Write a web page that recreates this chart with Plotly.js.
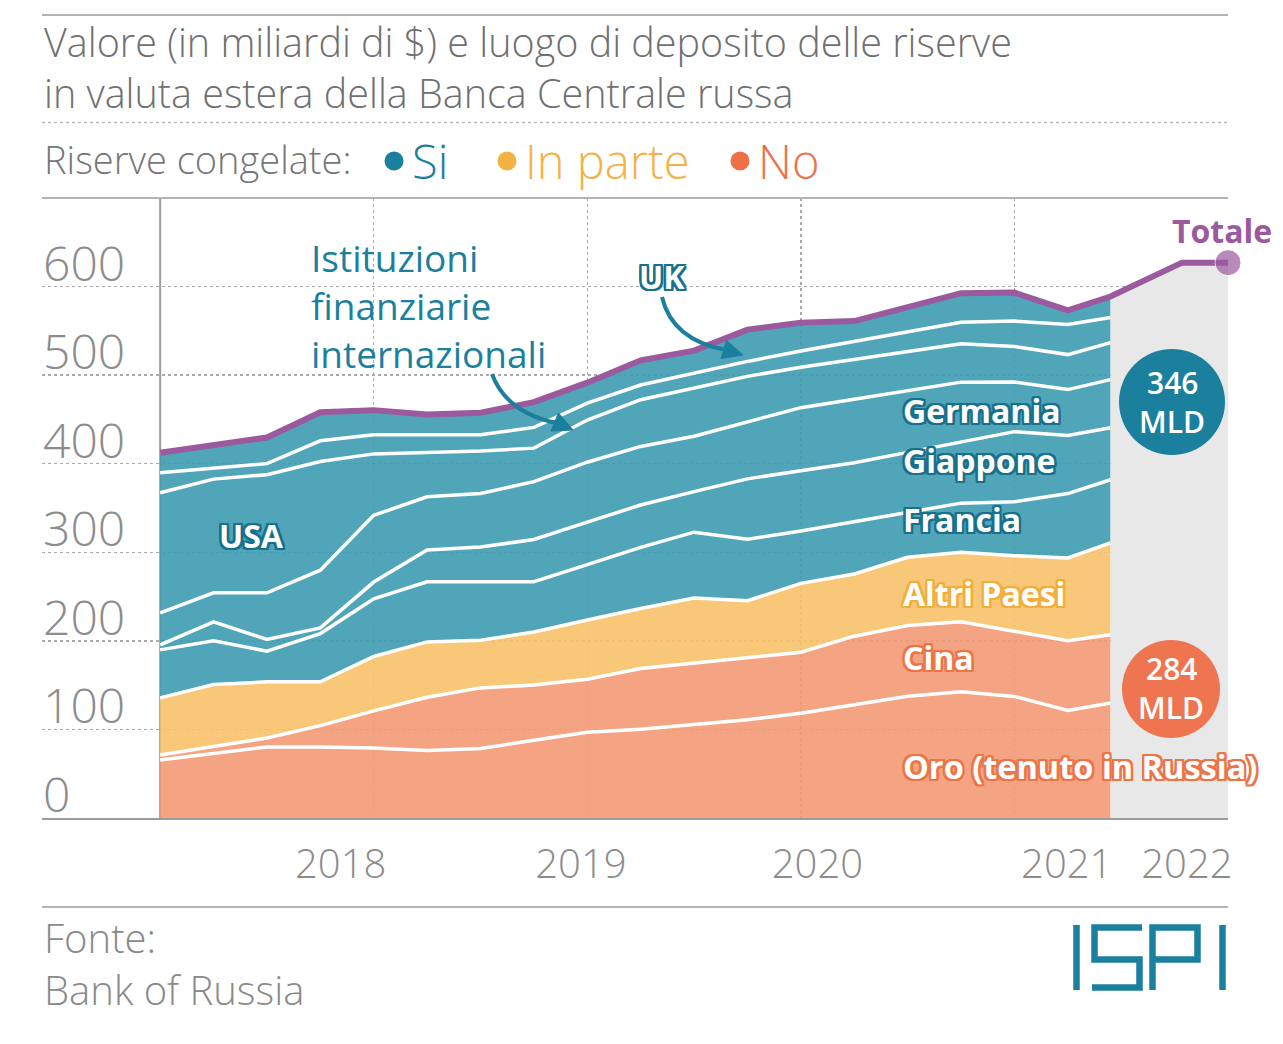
<!DOCTYPE html>
<html>
<head>
<meta charset="utf-8">
<script src="https://cdn.plot.ly/plotly-3.0.1.min.js"></script>
<style>
  html, body { margin: 0; padding: 0; background: #ffffff; }
  #chart { width: 1283px; height: 1044px; }
</style>
</head>
<body>
<div id="chart"></div>
<script>
// ---------- DATA (billions of $) ----------
// quarter index from Jan 2017 (0) ; last stacked point ~mid 2021
const quarterIdx = [0,1,2,3,4,5,6,7,8,9,10,11,12,13,14,15,16,17,17.8];
const oro      = [65.5,73.3,80.2,80.2,79.0,76.2,78.5,87.8,96.9,100.1,105.5,111.0,118.3,127.9,137.5,142.4,137.3,121.4,129.9];
const cina     = [5.7,7.3,10.2,24.1,42.0,60.1,68.4,62.4,59.7,68.6,69.3,70.0,68.9,77.4,79.9,79.1,73.0,78.7,76.9];
const altri    = [64.4,70.2,63.3,49.4,61.4,62.5,53.7,59.9,66.9,67.9,73.6,64.3,77.7,70.2,77.0,78.5,85.9,93.5,103.9];
const francia  = [54.2,49.2,34.7,54.5,65.1,67.9,66.1,56.6,62.5,68.9,74.3,69.4,59.2,59.0,50.6,55.5,60.9,72.7,71.2];
const giappone = [5.7,21.5,13.2,6.5,18.9,35.8,39.3,47.7,48.0,47.9,45.8,68.2,68.0,66.6,67.8,68.8,79.1,65.5,58.8];
const germania = [36.1,32.7,52.6,65.1,75.3,60.2,60.3,65.4,67.7,66.1,62.6,64.1,71.2,71.8,69.7,67.8,56.0,51.9,54.2];
const usa      = [135.6,128.4,133.4,122.7,69.4,50.1,48.1,37.8,47.6,52.8,54.3,51.6,45.7,45.0,44.2,43.4,40.1,39.5,41.8];
const ifi      = [22.6,12.3,12.5,23.4,21.7,20.0,18.4,23.4,19.2,16.5,16.7,16.9,18.3,20.3,22.2,24.3,28.8,33.9,28.3];
const uk       = [22.6,26.0,29.5,32.3,27.7,22.9,24.8,28.5,23.0,27.9,25.6,35.9,32.0,22.9,27.9,32.7,32.1,16.0,23.7];
// total after the end of the detailed series (up to early 2022)
const totaleExtX = [19.14, 20];
const totaleExtY = [627, 627];
// axis labels
const yTicks = [0,100,200,300,400,500,600];
const yearLabelPos = [3.38, 7.88, 12.31, 16.98, 19.23];
const yearLabels = ['2018','2019','2020','2021','2022'];
const yearGrid = [4, 8, 12, 16, 20];

// ---------- GEOMETRY HELPERS (pixels -> paper) ----------
const L = 42, R = 1228, T = 198, B = 818;
const px = x => (x - L) / (R - L);
const py = y => (B - y) / (B - T);

const TEAL_FILL = 'rgba(61,155,177,0.9)';
const YEL_FILL  = 'rgba(247,194,105,0.9)';
const SAL_FILL  = 'rgba(243,154,118,0.9)';
const PURPLE = '#9B5A9E';
const DTEAL = '#1B7F9E';
const FONT = '"Open Sans", Lato, sans-serif';

function outline(c, w) {
  const s = [];
  const d = [[-w,0],[w,0],[0,-w],[0,w],[-w,-w],[w,-w],[-w,w],[w,w],[-w,-w/2],[w,w/2],[-w/2,w],[w/2,-w]];
  for (const [dx,dy] of d) s.push(dx + 'px ' + dy + 'px 0 ' + c);
  return s.join(', ');
}

const layers = [
  {name:'Oro', y: oro, fill: SAL_FILL},
  {name:'Cina', y: cina, fill: SAL_FILL},
  {name:'Altri Paesi', y: altri, fill: YEL_FILL},
  {name:'Francia', y: francia, fill: TEAL_FILL},
  {name:'Giappone', y: giappone, fill: TEAL_FILL},
  {name:'Germania', y: germania, fill: TEAL_FILL},
  {name:'USA', y: usa, fill: TEAL_FILL},
  {name:'IFI', y: ifi, fill: TEAL_FILL},
  {name:'UK', y: uk, fill: TEAL_FILL}
];

const traces = layers.map(l => ({
  type: 'scatter', mode: 'lines', x: quarterIdx, y: l.y, name: l.name,
  stackgroup: 'one', fillcolor: l.fill,
  line: {color: '#ffffff', width: 3.5, shape: 'linear'},
  hoverinfo: 'skip', showlegend: false
}));

const totals = quarterIdx.map((_, i) => layers.reduce((s, l) => s + l.y[i], 0));
const lastI = quarterIdx.length - 1;

// gray area for the period after the detailed data
traces.push({
  type: 'scatter', mode: 'lines',
  x: [quarterIdx[lastI]].concat(totaleExtX),
  y: [totals[lastI]].concat(totaleExtY),
  fill: 'tozeroy', fillcolor: '#E8E8E8', line: {width: 0},
  hoverinfo: 'skip', showlegend: false
});
// total line
const totX = quarterIdx.concat(totaleExtX);
const totY = totals.concat(totaleExtY);
traces.push({
  type: 'scatter', mode: 'lines+markers', x: totX, y: totY, cliponaxis: false,
  line: {color: PURPLE, width: 6},
  marker: {color: PURPLE, size: totX.map((_, i) => i === totX.length - 1 ? 26 : 0)},
  hoverinfo: 'skip', showlegend: false
});

function txt(text, x, y, size, color, o = {}) {
  const f = {family: o.family || FONT, size: size, color: color};
  if (o.weight) f.weight = o.weight;
  if (o.shadow) f.shadow = o.shadow;
  return {text: text, xref: 'paper', yref: 'paper', x: px(x), y: py(y),
    xanchor: o.anchor || 'left', yanchor: 'middle', showarrow: false,
    align: o.align || 'left', font: f};
}

const annotations = [];
// Title (two lines)
annotations.push(txt('Valore (in miliardi di $) e luogo di deposito delle riserve<br>in valuta estera della Banca Centrale russa',
  42, 68, 39.5, '#707070', {weight: 300}));
// Legend
annotations.push(txt('Riserve congelate:', 42, 159, 38, '#777777', {weight: 300}));
annotations.push(txt('Si', 410, 161, 47, DTEAL, {weight: 300}));
annotations.push(txt('In parte', 523, 161, 47, '#F5B244', {weight: 300}));
annotations.push(txt('No', 756, 161, 47, '#EE7048', {weight: 300}));
// Y tick labels (above gridlines)
yTicks.forEach(v => annotations.push({
  text: String(v), xref: 'paper', yref: 'y', x: px(41), y: v,
  xanchor: 'left', yanchor: 'bottom', yshift: -10, showarrow: false,
  font: {family: FONT, size: 48, color: '#8c8c8c', weight: 300}
}));
// Series labels
const TO = outline('#17708C', 2.2);
annotations.push(txt('Istituzioni<br>finanziarie<br>internazionali', 309, 305, 37, DTEAL));
annotations.push(txt('UK', 662, 276, 32, '#ffffff', {anchor: 'center', weight: 700, shadow: TO}));
annotations.push(txt('USA', 251, 535, 32, '#ffffff', {anchor: 'center', weight: 700, shadow: TO}));
annotations.push(txt('Germania', 901, 410, 32, '#ffffff', {weight: 700, shadow: TO}));
annotations.push(txt('Giappone', 901, 460, 32, '#ffffff', {weight: 700, shadow: TO}));
annotations.push(txt('Francia', 901, 519, 32, '#ffffff', {weight: 700, shadow: TO}));
annotations.push(txt('Altri Paesi', 901, 593, 32, '#ffffff', {weight: 700, shadow: outline('#F2AE3C', 2.2)}));
annotations.push(txt('Cina', 901, 657, 32, '#ffffff', {weight: 700, shadow: outline('#EC7446', 2.2)}));
annotations.push(txt('Oro (tenuto in Russia)', 901, 766, 32.5, '#ffffff', {weight: 700, shadow: outline('#EC7446', 2.2)}));
annotations.push(txt('Totale', 1170, 230, 32, PURPLE, {weight: 700}));
annotations.push(txt('346', 1172, 382, 30, '#ffffff', {anchor: 'center', weight: 600}));
annotations.push(txt('MLD', 1172, 421, 30, '#ffffff', {anchor: 'center', weight: 600}));
annotations.push(txt('284', 1171, 668, 30, '#ffffff', {anchor: 'center', weight: 600}));
annotations.push(txt('MLD', 1171, 707, 30, '#ffffff', {anchor: 'center', weight: 600}));
// Footer
annotations.push(txt('Fonte:<br>Bank of Russia', 42, 964, 40, '#8a8a8a', {weight: 300}));

// ---------- SHAPES ----------
function P(x, y) { return px(x).toFixed(5) + ',' + py(y).toFixed(5); }
const shapes = [];
function hline(y, color, width, dash) {
  shapes.push({type: 'line', xref: 'paper', yref: 'paper', x0: 0, x1: 1, y0: py(y), y1: py(y),
    line: {color: color, width: width, dash: dash || 'solid'}, layer: 'above'});
}
hline(15, '#b4b4b4', 2);
hline(122.5, '#b8b8b8', 1.5, 'dot');
hline(198, '#b4b4b4', 2);
hline(907, '#b4b4b4', 2);
// y axis line at the start of the data
shapes.push({type: 'line', xref: 'x', yref: 'paper', x0: 0, x1: 0, y0: 0, y1: 1,
  line: {color: '#9c9c9c', width: 2}, layer: 'below'});
// legend dots
[[394, DTEAL], [507, '#F5B244'], [740, '#EE7048']].forEach(([cx, c]) => {
  shapes.push({type: 'circle', xref: 'paper', yref: 'paper',
    x0: px(cx - 9.5), x1: px(cx + 9.5), y0: py(161 + 9.5), y1: py(161 - 9.5),
    fillcolor: c, line: {width: 0}});
});
// badges
shapes.push({type: 'circle', xref: 'paper', yref: 'paper', x0: px(1119), x1: px(1225), y0: py(455), y1: py(349),
  fillcolor: '#1B7F9E', line: {width: 0}, layer: 'above'});
shapes.push({type: 'circle', xref: 'paper', yref: 'paper', x0: px(1122), x1: px(1220), y0: py(738), y1: py(640),
  fillcolor: '#EE7550', line: {width: 0}, layer: 'above'});
// curved arrows
shapes.push({type: 'path', xref: 'paper', yref: 'paper',
  path: 'M' + P(492, 374) + ' Q' + P(506, 412) + ' ' + P(556, 423),
  line: {color: DTEAL, width: 4}, layer: 'above'});
shapes.push({type: 'path', xref: 'paper', yref: 'paper',
  path: 'M' + P(573, 430) + ' L' + P(551, 431) + ' L' + P(558.5, 413) + ' Z',
  fillcolor: DTEAL, line: {color: DTEAL, width: 1}, layer: 'above'});
shapes.push({type: 'path', xref: 'paper', yref: 'paper',
  path: 'M' + P(662, 297) + ' Q' + P(672, 340) + ' ' + P(726, 350),
  line: {color: DTEAL, width: 4}, layer: 'above'});
shapes.push({type: 'path', xref: 'paper', yref: 'paper',
  path: 'M' + P(743, 355) + ' L' + P(721, 358.5) + ' L' + P(726.5, 340.5) + ' Z',
  fillcolor: DTEAL, line: {color: DTEAL, width: 1}, layer: 'above'});
// ISPI logo
const logo = [
  'M' + P(1076.5, 925) + ' L' + P(1076.5, 990),
  'M' + P(1142, 927.5) + ' L' + P(1094.5, 927.5) + ' L' + P(1094.5, 959.5) + ' L' + P(1139.5, 959.5) + ' L' + P(1139.5, 987.5) + ' L' + P(1092, 987.5),
  'M' + P(1152.5, 990) + ' L' + P(1152.5, 927.5) + ' L' + P(1197.5, 927.5) + ' L' + P(1197.5, 959.5) + ' L' + P(1152.5, 959.5),
  'M' + P(1222.5, 925) + ' L' + P(1222.5, 990)
];
logo.forEach(p => shapes.push({type: 'path', xref: 'paper', yref: 'paper', path: p,
  line: {color: '#1B7F9E', width: 6.5}, layer: 'above'}));

const layout = {
  width: 1283, height: 1044,
  margin: {l: L, r: 1283 - R, t: T, b: 1044 - B, pad: 0},
  paper_bgcolor: '#ffffff', plot_bgcolor: '#ffffff',
  showlegend: false,
  xaxis: {
    range: [-2.213, 20], fixedrange: true, zeroline: false,
    showgrid: false, showline: true, linecolor: '#9c9c9c', linewidth: 2,
    tickmode: 'array', tickvals: yearLabelPos, ticktext: yearLabels,
    ticks: 'outside', ticklen: 10, tickcolor: 'rgba(0,0,0,0)',
    tickfont: {family: FONT, size: 40, color: '#8c8c8c', weight: 300},
    minor: {tickmode: 'array', tickvals: yearGrid, showgrid: true, gridcolor: '#aaaaaa', gridwidth: 1.3, griddash: 'dot', ticks: ''}
  },
  yaxis: {
    range: [0, 700], fixedrange: true, zeroline: false,
    tickmode: 'array', tickvals: yTicks, showticklabels: false,
    showgrid: true, gridcolor: '#aaaaaa', gridwidth: 1.5, griddash: 'dot',
    showline: false, ticks: ''
  },
  annotations: annotations,
  shapes: shapes,
  font: {family: FONT}
};

Plotly.newPlot('chart', traces, layout, {staticPlot: true, displayModeBar: false});
</script>
</body>
</html>
